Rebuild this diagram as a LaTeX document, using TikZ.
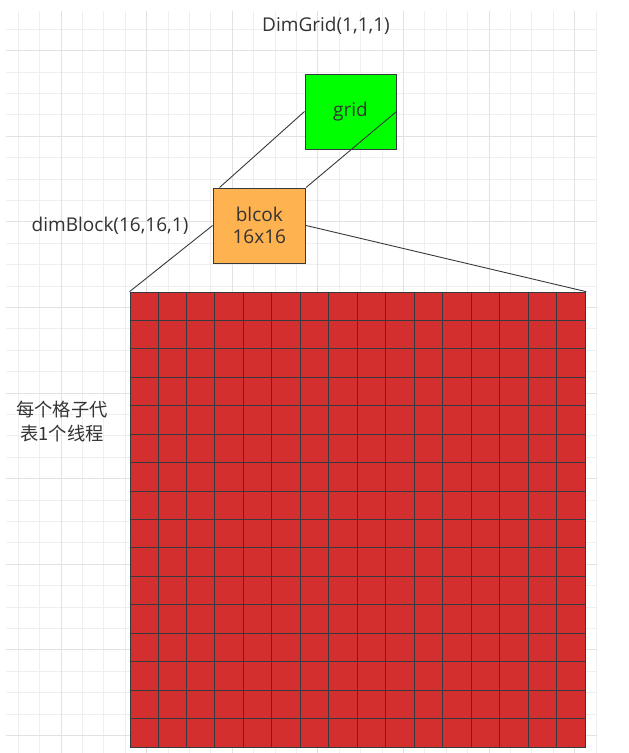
\documentclass[tikz,border=0pt]{standalone}
\usepackage{fontspec}
\setmainfont{Open Sans}
\newfontfamily\cjkfont{Noto Sans CJK SC}
\usetikzlibrary{positioning,calc}
\definecolor{minorgrid}{HTML}{EFEFEF}
\definecolor{majorgrid}{HTML}{E2E2E2}
\definecolor{txt}{HTML}{333333}
\definecolor{edge}{HTML}{36393D}
\definecolor{gridgreen}{HTML}{00FF00}
\definecolor{blockorange}{HTML}{FFB350}
\definecolor{threadred}{HTML}{D32F2F}
\tikzset{
  box/.style={draw=edge,line width=1pt,inner sep=0pt,text=txt,align=center,
    font=\fontsize{19}{22}\selectfont},
  caption/.style={text=txt,align=center,inner sep=0pt,font=\fontsize{19}{22}\selectfont},
  link/.style={draw=edge,line width=0.9pt}
}
\begin{document}
\begin{tikzpicture}[x=1pt,y=-1pt]
\useasboundingbox (0,0) rectangle (629,753);
\fill[white] (0,0) rectangle (629,753);
% paper grid
\foreach \i in {0,...,27}
  \draw[minorgrid,line width=1pt] ({18.3+21.4*\i},11) -- ({18.3+21.4*\i},753);
\foreach \j in {0,...,33}
  \draw[minorgrid,line width=1pt] (6,{29.3+21.4*\j}) -- (597,{29.3+21.4*\j});
\foreach \i in {2,6,...,26}
  \draw[majorgrid,line width=1pt] ({18.3+21.4*\i},11) -- ({18.3+21.4*\i},753);
\foreach \j in {1,5,...,33}
  \draw[majorgrid,line width=1pt] (6,{29.3+21.4*\j}) -- (597,{29.3+21.4*\j});
% boxes
\node[box,fill=gridgreen,minimum width=91pt,minimum height=75pt] (grid) at (350.5,111.5) {grid};
\node[box,fill=blockorange,minimum width=92.5pt,minimum height=75pt] (block) at (259.3,225.5) {blcok\\16x16};
\node[draw=edge,line width=1pt,fill=threadred,minimum width=455.7pt,minimum height=455.7pt,inner sep=0pt] (threads) at (357.9,520) {};
\foreach \k in {1,...,15}{
  \draw[edge,line width=1pt] ($(threads.north west)+({28.48*\k},0)$) -- ($(threads.south west)+({28.48*\k},0)$);
  \draw[edge,line width=1pt] ($(threads.north west)+(0,{28.48*\k})$) -- ($(threads.north east)+(0,{28.48*\k})$);
}
% labels
\node[caption] (dimgrid) at (326,26) {DimGrid(1,1,1)};
\node[caption,left=24pt of block] (dimblock) {dimBlock(16,16,1)};
\node[caption,font=\cjkfont\fontsize{18.3}{24}\selectfont] (note) at (62,421) {每个格子代\\表1个线程};
% connectors
\draw[link] (grid.west) -- ($(block.north west)+(7,0)$);
\draw[link] (grid.east) -- (block.north east);
\draw[link] (block.west) -- (threads.north west);
\draw[link] (block.east) -- (threads.north east);
\end{tikzpicture}
\end{document}
